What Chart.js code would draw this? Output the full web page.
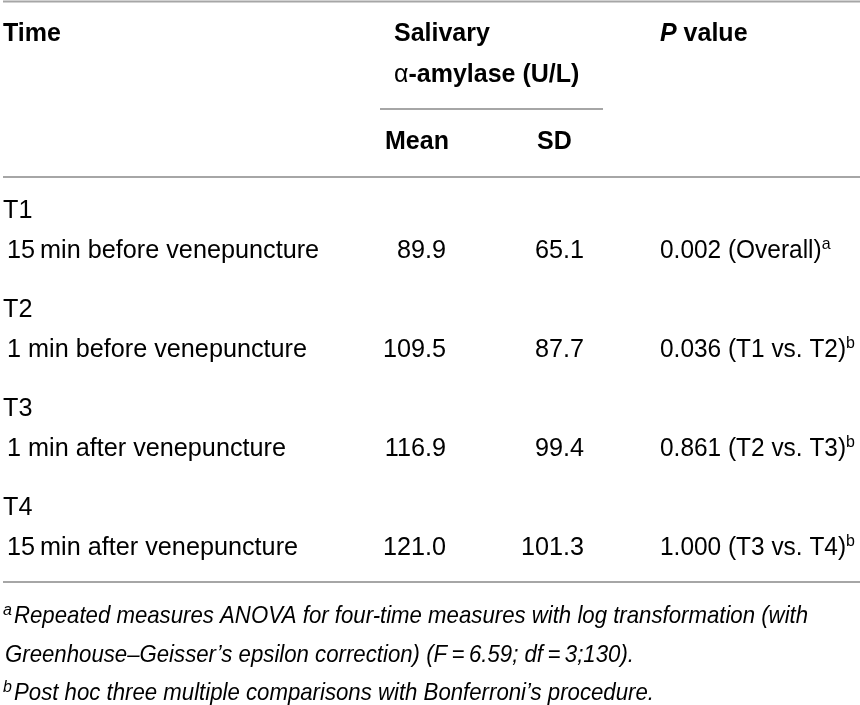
<!DOCTYPE html>
<html><head><meta charset="utf-8">
<script src="https://cdn.jsdelivr.net/npm/chart.js@4.4.1/dist/chart.umd.min.js"></script>
<style>html,body{margin:0;padding:0;background:#fff;overflow:hidden}canvas{display:block}</style>
</head><body>
<canvas id="c" width="860" height="705"></canvas>
<script>
// ---- table content (data) ----
const timePoints = ['T1', 'T2', 'T3', 'T4'];
const timeDescriptions = ['15\u2009min before venepuncture', '1 min before venepuncture', '1 min after venepuncture', '15\u2009min after venepuncture'];
const meanValues = ['89.9', '109.5', '116.9', '121.0'];
const sdValues = ['65.1', '87.7', '99.4', '101.3'];
const pValues = ['0.002', '0.036', '0.861', '1.000'];
const pComparisons = ['(Overall)', '(T1 vs. T2)', '(T2 vs. T3)', '(T3 vs. T4)'];
const pNoteMarks = ['a', 'b', 'b', 'b'];
const headerTime = 'Time';
const headerMeasure1 = 'Salivary';
const headerMeasure2 = ['\u03b1', '-amylase (U/L)'];
const headerStats = ['Mean', 'SD'];
const headerP = ['P', ' value'];
const footnoteMarks = ['a', '', 'b'];
const footnoteLines = [
  'Repeated measures ANOVA for four-time measures with log transformation (with',
  'Greenhouse\u2013Geisser\u2019s epsilon correction) (F\u2009=\u20096.59; df\u2009=\u20093;130).',
  'Post hoc three multiple comparisons with Bonferroni\u2019s procedure.'
];

// ---- layout / style ----
const L = {
  xTime: 3, xDesc: 7, xMeanR: 446, xSDR: 584, xP: 660,
  xHeadMeasure: 394, xHeadMean: 385, xHeadSD: 537,
  yHead1: 41, yHead2: 82, yHead3: 149,
  yTime0: 218, yDesc0: 258, rowStep: 99,
  rules: [[3, 860, 1.5], [380, 603, 109], [3, 860, 177], [3, 860, 582]],
  yFoot: [623, 662, 700], xFootMark: 3, xFootText: [14, 5, 14], footTargets: [845, 618, 610]
};
const REG = '26px "Liberation Sans", Arial, sans-serif';
const SUP = '17px "Liberation Sans", Arial, sans-serif';
const BOLD = 'bold 25px "Liberation Sans", Arial, sans-serif';
const BOLDIT = 'italic bold 25px "Liberation Sans", Arial, sans-serif';
const REGH = '25px "Liberation Sans", Arial, sans-serif';
const FOOT = 'italic 24px "Liberation Sans", Arial, sans-serif';
const FOOTSUP = 'italic 16px "Liberation Sans", Arial, sans-serif';
const REG_SX = 0.97;

function drawRuns(ctx, x, y, runs, align, sx) {
  let w = 0;
  runs.forEach(r => { ctx.font = r.f; r.w = ctx.measureText(r.t).width; w += r.w; });
  ctx.save();
  ctx.translate(x, y);
  ctx.scale(sx || 1, 1);
  ctx.textAlign = 'left';
  ctx.textBaseline = 'alphabetic';
  ctx.fillStyle = '#000';
  let cx = align === 'right' ? -w : 0;
  runs.forEach(r => { ctx.font = r.f; ctx.fillText(r.t, cx, r.dy || 0); cx += r.w; });
  ctx.restore();
}

const tablePlugin = {
  id: 'tablePlugin',
  afterDatasetsDraw(chart) {
    const ctx = chart.ctx, xs = chart.scales.x, ys = chart.scales.y;
    const X = v => xs.getPixelForValue(v), Y = v => ys.getPixelForValue(v);
    // rules
    ctx.save();
    ctx.strokeStyle = '#a6a6a6';
    ctx.lineWidth = 2;
    L.rules.forEach(([a, b, y]) => { ctx.beginPath(); ctx.moveTo(X(a), Y(y)); ctx.lineTo(X(b), Y(y)); ctx.stroke(); });
    ctx.restore();
    // header
    drawRuns(ctx, X(L.xTime), Y(L.yHead1), [{ t: headerTime, f: BOLD }]);
    drawRuns(ctx, X(L.xHeadMeasure), Y(L.yHead1), [{ t: headerMeasure1, f: BOLD }]);
    drawRuns(ctx, X(L.xHeadMeasure), Y(L.yHead2), [{ t: headerMeasure2[0], f: REGH }, { t: headerMeasure2[1], f: BOLD }]);
    drawRuns(ctx, X(L.xHeadMean), Y(L.yHead3), [{ t: headerStats[0], f: BOLD }]);
    drawRuns(ctx, X(L.xHeadSD), Y(L.yHead3), [{ t: headerStats[1], f: BOLD }]);
    drawRuns(ctx, X(L.xP), Y(L.yHead1), [{ t: headerP[0], f: BOLDIT }, { t: headerP[1], f: BOLD }]);
    // body rows: labels from data, numeric cells at the dataset elements
    timePoints.forEach((t, i) => {
      drawRuns(ctx, X(L.xTime), Y(L.yTime0 + i * L.rowStep), [{ t, f: REG }], 'left', REG_SX);
      drawRuns(ctx, X(L.xDesc), Y(L.yDesc0 + i * L.rowStep), [{ t: timeDescriptions[i], f: REG }], 'left', REG_SX);
    });
    const mMeta = chart.getDatasetMeta(0), sMeta = chart.getDatasetMeta(1), pMeta = chart.getDatasetMeta(2);
    mMeta.data.forEach((el, i) => drawRuns(ctx, el.x, el.y, [{ t: meanValues[i], f: REG }], 'right', REG_SX));
    sMeta.data.forEach((el, i) => drawRuns(ctx, el.x, el.y, [{ t: sdValues[i], f: REG }], 'right', REG_SX));
    pMeta.data.forEach((el, i) => drawRuns(ctx, el.x, el.y, [
      { t: pValues[i] + ' ' + pComparisons[i], f: REG },
      { t: pNoteMarks[i], f: SUP, dy: -9 }
    ], 'left', 0.94));
    // footnotes: one common horizontal compression, averaged over the line widths in the reference
    ctx.font = FOOT;
    let sxSum = 0;
    footnoteLines.forEach((line, i) => { sxSum += L.footTargets[i] / ctx.measureText(line).width; });
    const sx = sxSum / footnoteLines.length;
    footnoteLines.forEach((line, i) => {
      if (footnoteMarks[i]) drawRuns(ctx, X(L.xFootMark), Y(L.yFoot[i]), [{ t: footnoteMarks[i], f: FOOTSUP, dy: -8 }]);
      drawRuns(ctx, X(L.xFootText[i]), Y(L.yFoot[i]), [{ t: line, f: FOOT }], 'left', sx);
    });
  }
};

const rowY = i => L.yDesc0 + i * L.rowStep;
new Chart(document.getElementById('c'), {
  type: 'scatter',
  data: {
    datasets: [
      { label: 'Mean', data: meanValues.map((v, i) => ({ x: L.xMeanR, y: rowY(i) })), pointRadius: 0 },
      { label: 'SD', data: sdValues.map((v, i) => ({ x: L.xSDR, y: rowY(i) })), pointRadius: 0 },
      { label: 'P value', data: pValues.map((v, i) => ({ x: L.xP, y: rowY(i) })), pointRadius: 0 }
    ]
  },
  options: {
    responsive: false,
    animation: false,
    layout: { padding: 0 },
    plugins: { legend: { display: false }, tooltip: { enabled: false } },
    scales: {
      x: { type: 'linear', min: 0, max: 860, display: false },
      y: { type: 'linear', min: 0, max: 705, reverse: true, display: false }
    }
  },
  plugins: [tablePlugin]
});
</script>
</body></html>
